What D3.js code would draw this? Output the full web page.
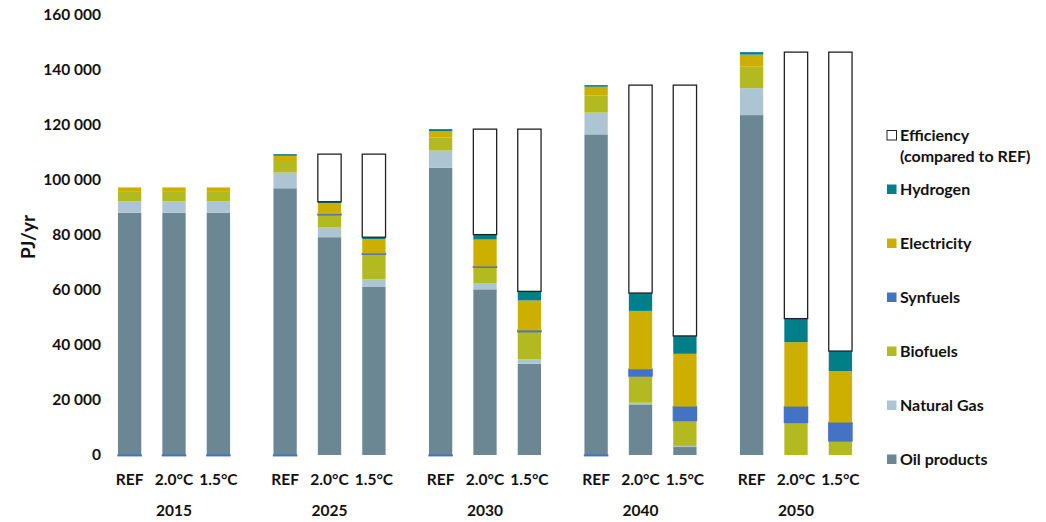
<!DOCTYPE html>
<html><head><meta charset="utf-8">
<script src="https://cdn.jsdelivr.net/npm/d3@7/dist/d3.min.js"></script>
<style>
body{margin:0;background:#fff;}
text{font-family:Lato,"Open Sans",sans-serif;font-weight:bold;fill:#111;}
</style></head>
<body><svg id="c" width="1046" height="522"></svg>
<script>
const years = ["2015","2025","2030","2040","2050"];
const scenarios = ["REF","2.0°C","1.5°C"];
const seriesNames = ["Oil products","Natural Gas","Biofuels","Synfuels","Electricity","Hydrogen","Efficiency"];
const legendLabels = ["Efficiency\n(compared to REF)","Hydrogen","Electricity","Synfuels","Biofuels","Natural Gas","Oil products"];
const yTicks = [0,20000,40000,60000,80000,100000,120000,140000,160000];
// values per bar, year-major order: 2015 REF,2.0,1.5, 2025 ..., 2050
const oilProducts = [88100,88100,88100, 97000,79200,61100, 104500,60250,33200, 116600,18400,2900, 123600,0,0];
const naturalGas  = [4200,4200,4200, 5700,3500,2800, 6200,2300,1600, 7900,600,400, 9800,0,0];
const biofuels    = [3400,3400,3400, 4200,4600,9100, 4800,5700,10000, 6300,9700,9200, 7800,11800,5100];
const synfuels    = [-300,-300,-300, -300,300,300, -300,300,500, -300,2500,5100, 0,5800,6700];
const electricity = [1600,1600,1600, 1900,4000,5200, 2300,9800,10900, 3100,21200,19200, 4400,23400,18700];
const hydrogen    = [0,0,0, 600,500,700, 700,1800,3300, 600,6500,6500, 900,8600,7300];
const efficiency  = [0,0,0, 0,17300,30200, 0,38350,59000, 0,75600,91200, 0,96900,108700];

const colors = {"Oil products":"#6b8794","Natural Gas":"#adc5d3","Biofuels":"#b3ba1f","Synfuels":"#4472c4",
  "Electricity":"#ccaf00","Hydrogen":"#007f89","Efficiency":"#ffffff"};

const seriesVals = [oilProducts,naturalGas,biofuels,synfuels,electricity,hydrogen,efficiency];
const rows = [];
years.forEach((yr,gi)=>scenarios.forEach((sc,si)=>{
  const idx = gi*3+si; const r = {year:yr, scen:sc};
  seriesNames.forEach((s,k)=>r[s]=seriesVals[k][idx]);
  rows.push(r);
}));

const svg = d3.select("#c");
const y = d3.scaleLinear().domain([0,160000]).range([455,15]);
const x0 = d3.scaleBand().domain(years).range([96.25,873.75]).paddingInner(0.1434).paddingOuter(0.0717);
const x1 = d3.scaleBand().domain(scenarios).range([0,x0.bandwidth()]).paddingInner(0.475).paddingOuter(0.2375);

const stack = d3.stack().keys(seriesNames).offset(d3.stackOffsetDiverging);
const stacked = stack(rows);

const g = svg.append("g");
stacked.forEach(layer=>{
  const name = layer.key;
  g.append("g").selectAll("rect").data(layer.filter(d=>d.data[name]!==0)).join("rect")
    .attr("x",d=>x0(d.data.year)+x1(d.data.scen))
    .attr("width",x1.bandwidth())
    .attr("y",d=>y(Math.max(d[0],d[1])))
    .attr("height",d=>Math.abs(y(d[0])-y(d[1])))
    .attr("fill",colors[name])
    .attr("stroke",name==="Efficiency"?"#222":(name==="Synfuels"?colors[name]:"none"))
    .attr("stroke-width",name==="Efficiency"?1.3:(name==="Synfuels"?1.2:0));
});

// y axis
const fmt = d3.formatLocale({decimal:",",thousands:" ",grouping:[3],currency:["",""]}).format(",d");
const ya = svg.append("g").attr("transform","translate(104,0)")
  .call(d3.axisLeft(y).tickValues(yTicks).tickSize(0).tickPadding(3).tickFormat(fmt));
ya.select(".domain").remove();
ya.selectAll("text").style("font-family","Lato,sans-serif").style("font-weight","bold").style("font-size","15.5px").attr("fill","#111");

svg.append("text").attr("transform","translate(28,237) rotate(-90)").attr("text-anchor","middle").attr("dy","0.35em")
  .style("font-size","19px").text("PJ/yr");

// x labels
years.forEach(yr=>{
  scenarios.forEach(sc=>{
    svg.append("text").attr("x",x0(yr)+x1(sc)+x1.bandwidth()/2).attr("y",480).attr("dy","0.35em")
      .attr("text-anchor","middle").style("font-size","15.5px").text(sc);
  });
  svg.append("text").attr("x",x0(yr)+x0.bandwidth()/2).attr("y",511).attr("dy","0.35em")
    .attr("text-anchor","middle").style("font-size","15.5px").text(yr);
});

// legend
const legendKeys = ["Efficiency","Hydrogen","Electricity","Synfuels","Biofuels","Natural Gas","Oil products"];
const lg = svg.append("g");
legendKeys.forEach((k,i)=>{
  const cy = 135 + i*54;
  lg.append("rect").attr("x",887).attr("y",cy-4.5).attr("width",9.5).attr("height",9.5)
    .attr("fill",colors[k]).attr("stroke",k==="Efficiency"?"#222":"none").attr("stroke-width",1);
  const lines = legendLabels[i].split("\n");
  const t = lg.append("text").attr("x",900).attr("y",cy).style("font-size","16px");
  lines.forEach((ln,j)=>t.append("tspan").attr("x",900).attr("dy",j===0?"0.35em":"21px").text(ln));
});
</script></body></html>
